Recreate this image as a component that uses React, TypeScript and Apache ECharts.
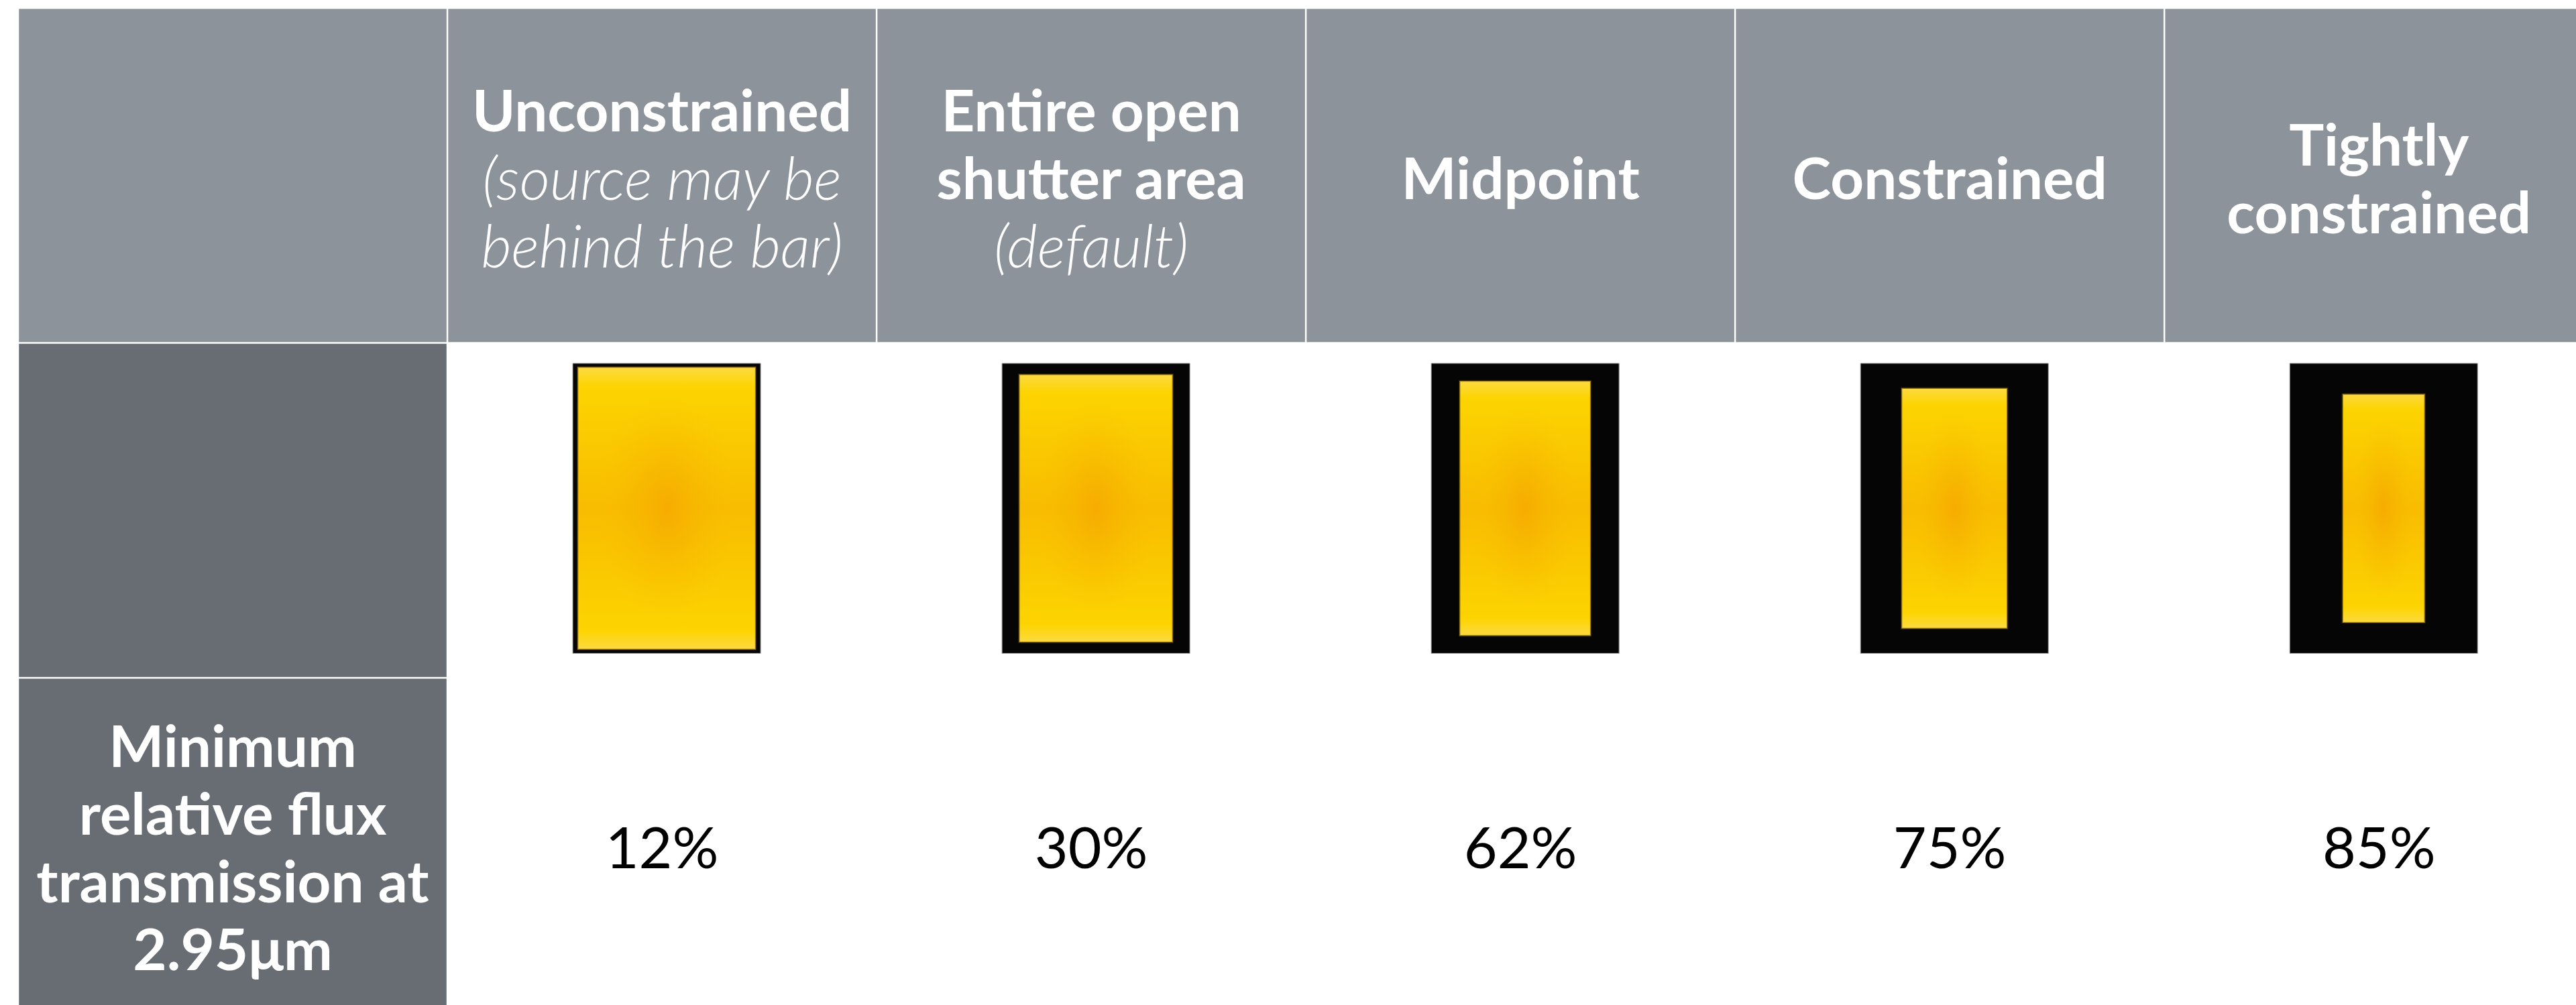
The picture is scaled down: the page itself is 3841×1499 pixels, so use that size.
import React, { useEffect, useRef } from "react";
import * as echarts from "echarts";

// ---- data ----
const columnTitles = ["Unconstrained", "Entire open\nshutter area", "Midpoint", "Constrained", "Tightly\nconstrained"];
const columnNotes = ["(source may be\nbehind the bar)", "(default)", "", "", ""];
const rowLabel = "Minimum\nrelative flux\ntransmission at\n2.95μm";
const fluxTransmission = [12, 30, 62, 75, 85];
// open aperture as a fraction of the slit box (width, height)
const apertureWidth = [0.95, 0.82, 0.7, 0.565, 0.44];
const apertureHeight = [0.975, 0.925, 0.88, 0.83, 0.79];

const HEADER_GRAY = "#8d939a";
const DARK_GRAY = "#686c73";
const FONT = "Lato, 'Open Sans', sans-serif";

export default function App() {
  const ref = useRef<HTMLDivElement>(null);

  useEffect(() => {
    if (!ref.current) return;
    const chart = echarts.init(ref.current, undefined, { renderer: "svg" });

    // gray cells: [col, row, kind] kind 0 = header, 1 = row label column
    const cells: number[][] = [];
    for (let c = 0; c <= columnTitles.length; c++) cells.push([c, 0, 0]);
    cells.push([0, 1, 1]);
    cells.push([0, 2, 1]);

    const headerData = columnTitles.map((_, i) => [i + 1, 0]);
    const slitData = apertureWidth.map((w, i) => [i + 1, 1, w, apertureHeight[i]]);
    const fluxData = fluxTransmission.map((v, i) => [i + 1, 2, v]);

    const cellRender = (params: any, api: any) => {
      const c = api.value(0);
      const r = api.value(1);
      const kind = api.value(2);
      const p0 = api.coord([c - 0.5, r - 0.5]);
      const p1 = api.coord([c + 0.5, r + 0.5]);
      const g = 1.25;
      return {
        type: "rect",
        shape: { x: p0[0] + g, y: p0[1] + g, width: p1[0] - p0[0] - 2 * g, height: p1[1] - p0[1] - 2 * g },
        style: { fill: kind === 0 ? HEADER_GRAY : DARK_GRAY },
      };
    };

    const rich = {
      b: { fontFamily: FONT, fontWeight: "bold", fontSize: 87, lineHeight: 101, fill: "#ffffff" },
      i: { fontFamily: FONT, fontStyle: "italic", fontWeight: 300, fontSize: 88, lineHeight: 101, fill: "#ffffff" },
    };

    const headerRender = (params: any, api: any) => {
      const i = params.dataIndex;
      const p = api.coord([api.value(0), api.value(1)]);
      const lines: string[] = [];
      columnTitles[i].split("\n").forEach((l) => lines.push(`{b|${l}}`));
      if (columnNotes[i]) columnNotes[i].split("\n").forEach((l) => lines.push(`{i|${l}}`));
      return {
        type: "text",
        x: p[0],
        y: p[1] + 2,
        style: { text: lines.join("\n"), rich, align: "center", verticalAlign: "middle", fill: "#fff" },
      };
    };

    const rowLabelRender = (params: any, api: any) => {
      const p = api.coord([api.value(0), api.value(1)]);
      return {
        type: "text",
        x: p[0],
        y: p[1] + 1,
        style: {
          text: rowLabel.split("\n").map((l) => `{b|${l}}`).join("\n"),
          rich,
          align: "center",
          verticalAlign: "middle",
          fill: "#fff",
        },
      };
    };

    const slitRender = (params: any, api: any) => {
      const ctr = api.coord([api.value(0), api.value(1)]);
      const sz = api.size([1, 1]);
      const ow = sz[0] * 0.4375;
      const oh = sz[1] * 0.866;
      const iw = ow * api.value(2);
      const ih = oh * api.value(3);
      const cx = ctr[0] + 7;
      const cy = ctr[1] - 3;
      return {
        type: "group",
        children: [
          {
            type: "rect",
            shape: { x: cx - ow / 2, y: cy - oh / 2, width: ow, height: oh },
            style: { fill: "#050505", stroke: "#9a9a9a", lineWidth: 1 },
          },
          {
            type: "rect",
            shape: { x: cx - iw / 2, y: cy - ih / 2, width: iw, height: ih },
            style: {
              fill: {
                type: "linear",
                x: 0,
                y: 0,
                x2: 0,
                y2: 1,
                colorStops: [
                  { offset: 0, color: "#fdda42" },
                  { offset: 0.07, color: "#fcd400" },
                  { offset: 0.5, color: "#f8bc00" },
                  { offset: 0.93, color: "#fcd400" },
                  { offset: 1, color: "#fdda42" },
                ],
              },
              stroke: "rgba(60,40,0,0.55)",
              lineWidth: 2.5,
            },
          },
          {
            type: "rect",
            shape: { x: cx - iw / 2 + 2, y: cy - ih / 2 + 2, width: iw - 4, height: ih - 4 },
            style: {
              fill: {
                type: "radial",
                x: 0.5,
                y: 0.5,
                r: 0.5,
                colorStops: [
                  { offset: 0, color: "rgba(246,170,0,0.9)" },
                  { offset: 0.45, color: "rgba(247,180,0,0.35)" },
                  { offset: 0.8, color: "rgba(249,190,0,0)" },
                  { offset: 1, color: "rgba(249,190,0,0)" },
                ],
              },
            },
          },
        ],
      };
    };

    const fluxRender = (params: any, api: any) => {
      const p = api.coord([api.value(0), api.value(1)]);
      return {
        type: "text",
        x: p[0],
        y: p[1] + 1,
        style: {
          text: `${api.value(2)}%`,
          fontFamily: FONT,
          fontSize: 86,
          fontWeight: "normal",
          fill: "#000000",
          align: "center",
          verticalAlign: "middle",
        },
      };
    };

    chart.setOption({
      animation: false,
      backgroundColor: "#ffffff",
      // the table runs past the right and bottom edges of the picture
      grid: { left: 27, top: 12, right: 0, bottom: 0 },
      xAxis: { type: "value", min: -0.5, max: 5.459, show: false },
      yAxis: { type: "value", min: -0.5, max: 2.477, inverse: true, show: false },
      series: [
        { type: "custom", name: "cells", renderItem: cellRender, data: cells, silent: true, clip: false },
        { type: "custom", name: "slits", renderItem: slitRender, data: slitData, silent: true },
        { type: "custom", name: "headers", renderItem: headerRender, data: headerData, silent: true },
        { type: "custom", name: "rowLabel", renderItem: rowLabelRender, data: [[0, 2]], silent: true },
        { type: "custom", name: "flux", renderItem: fluxRender, data: fluxData, silent: true },
      ],
    });

    return () => chart.dispose();
  }, []);

  return (
    <div
      ref={ref}
      style={{ position: "fixed", left: 0, top: 0, width: "3841px", height: "1499px", background: "#fff" }}
    />
  );
}
